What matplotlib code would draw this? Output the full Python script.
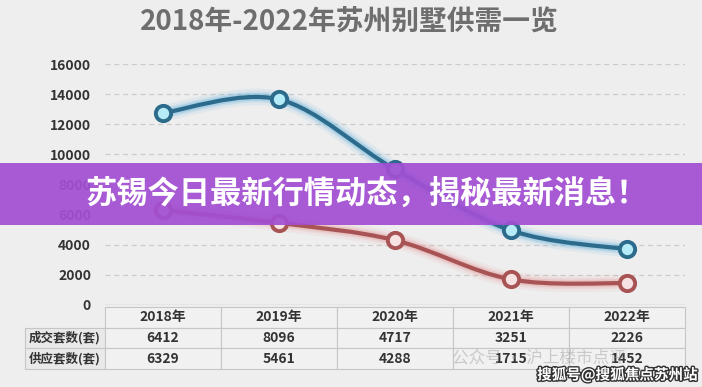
import numpy as np
import matplotlib
matplotlib.use('Agg')
import matplotlib.pyplot as plt
from matplotlib.path import Path
from matplotlib.patches import PathPatch, Rectangle
import matplotlib.patheffects as pe

plt.rcParams['font.family'] = ['Noto Sans CJK SC', 'DejaVu Sans']

# データ
years = ['2018年', '2019年', '2020年', '2021年', '2022年']
blue_vals = [12750, 13650, 9000, 4950, 3700]
red_vals = [6300, 5450, 4300, 1700, 1450]
row_labels = ['成交套数(套)', '供应套数(套)']
deal_counts = ['6412', '8096', '4717', '3251', '2226']
supply_counts = ['6329', '5461', '4288', '1715', '1452']
yticks = [0, 2000, 4000, 6000, 8000, 10000, 12000, 14000, 16000]

W, H = 702, 387
bg = '#eeeeee'


def px(x0, y0, w, h):
    # ピクセル座標 -> figure座標
    return [x0 / W, (H - y0 - h) / H, w / W, h / H]


def smooth_path(xs, ys):
    # Catmull-Rom -> ベジェ
    pts = np.column_stack([xs, ys]).astype(float)
    n = len(pts)
    verts = [pts[0]]
    codes = [Path.MOVETO]
    for i in range(n - 1):
        p0 = pts[max(i - 1, 0)]
        p1 = pts[i]
        p2 = pts[i + 1]
        p3 = pts[min(i + 2, n - 1)]
        c1 = p1 + (p2 - p0) / 6
        c2 = p2 - (p3 - p1) / 6
        verts += [c1, c2, p2]
        codes += [Path.CURVE4] * 3
    return Path(verts, codes)


fig = plt.figure(figsize=(W / 100, H / 100), dpi=100, facecolor=bg)

ax = fig.add_axes(px(105, 64, 580, 241))
ax.set_facecolor(bg)
ax.set_xlim(-0.5, 4.5)
ax.set_ylim(0, 16000)
for s in ax.spines.values():
    s.set_visible(False)
ax.set_xticks([])
ax.set_yticks(yticks)
ax.set_yticklabels([str(v) for v in yticks], fontsize=10, fontweight='bold', color='#333333')
ax.tick_params(axis='y', length=0, pad=10)
for v in yticks[1:]:
    ax.axhline(v, color='#cccccc', lw=0.9, ls=(0, (4, 3)), zorder=1)
ax.axhline(0, color='#c4c4c4', lw=1.0, zorder=1)

x = np.arange(len(years))
series = [
    (blue_vals, '#2d6b8c', '#62b3dc', '#b5ecf7'),
    (red_vals, '#a85454', '#e59a9a', '#f6e2e2'),
]
for vals, core, glow, fill in series:
    path = smooth_path(x, vals)
    for lw, a in [(12, 0.10), (8, 0.18), (5.5, 0.3)]:
        ax.add_patch(PathPatch(path, fill=False, edgecolor=glow, lw=lw, alpha=a,
                               capstyle='round', zorder=2))
    ax.add_patch(PathPatch(path, fill=False, edgecolor=core, lw=3, zorder=3,
                           capstyle='round'))
    ax.plot(x, vals, 'o', ms=11, mfc=fill, mec=core, mew=2.8, zorder=4)

# 表
ax_t = fig.add_axes(px(25, 307, 660, 62))
ax_t.axis('off')
cells = [[''] + years, [row_labels[0]] + deal_counts, [row_labels[1]] + supply_counts]
tbl = ax_t.table(cellText=cells, bbox=[0, 0, 1, 1], cellLoc='center',
                 colWidths=[80] + [116] * 5)
tbl.auto_set_font_size(False)
for (r, c), cell in tbl.get_celld().items():
    cell.set_edgecolor('#c6c6c6')
    cell.set_linewidth(0.8)
    cell.set_facecolor('#f1f1f1')
    cell.get_text().set_fontweight('bold')
    cell.get_text().set_color('#333333')
    cell.get_text().set_fontsize(10)
    if c == 0:
        cell.get_text().set_fontsize(9)
        cell.set_facecolor('#e9e9e9')
    if r == 0 and c == 0:
        cell.set_edgecolor(bg)
        cell.set_facecolor(bg)
        cell.visible_edges = ''

# タイトル
fig.text(349 / W, 1 - 23 / H, '2018年-2022年苏州别墅供需一览', ha='center', va='center',
         fontsize=20, fontweight='bold', color='#6e6e6e')

# 透かし
fig.text(452 / W, 1 - 358 / H, '公众号 · 沪上楼市点评', ha='left', va='center',
         fontsize=12, color='#999999', alpha=0.45)
fig.text(698 / W, 1 - 375 / H, '搜狐号@搜狐焦点苏州站', ha='right', va='center',
         fontsize=10.5, fontweight='bold', color='white',
         path_effects=[pe.withStroke(linewidth=2, foreground='#333333')])

# バナー
fig.patches.append(Rectangle((0, 1 - 225 / H), 1, 62 / H, transform=fig.transFigure,
                             facecolor='#a24fd3', alpha=0.93, zorder=10))
fig.text(367 / W, 1 - 194 / H, '苏锡今日最新行情动态，揭秘最新消息！', ha='center', va='center',
         fontsize=22.5, fontweight='bold', color='white', zorder=11)

fig.savefig('out.png', dpi=100, facecolor=bg)
